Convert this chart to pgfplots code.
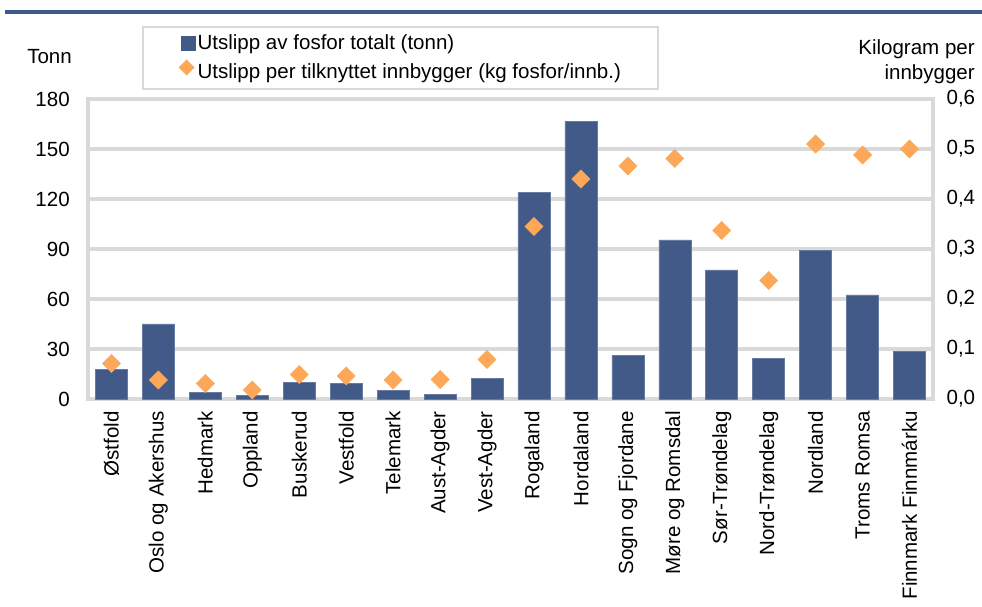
\documentclass[border=0pt]{standalone}
\usepackage{pgfplots}
\pgfplotsset{compat=1.18}
\usepackage{fontspec}
\setmainfont{Liberation Sans}
\definecolor{barcol}{RGB}{65,90,136}
\definecolor{dia}{RGB}{252,168,88}
\definecolor{gridc}{RGB}{217,217,217}
\definecolor{botc}{RGB}{200,200,200}
\definecolor{titleline}{RGB}{63,90,138}
\newcommand{\fs}{\fontsize{15.4pt}{18pt}\selectfont}
\begin{document}
\begin{tikzpicture}[font=\fs]
\path[use as bounding box] (0pt,0pt) rectangle (736.5pt,455.25pt);
\draw[titleline, line width=3pt] (4pt,446.25pt) -- (736.5pt,446.25pt);
\node[anchor=base west, inner sep=0pt] at (20.25pt,407.25pt) {Tonn};
\node[anchor=base east, inner sep=0pt] at (731.25pt,414pt) {Kilogram per};
\node[anchor=base east, inner sep=0pt] at (731.25pt,395.25pt) {innbygger};
\begin{axis}[
  at={(66pt,156pt)}, anchor=south west,
  scale only axis, width=633.75pt, height=225pt,
  xmin=-0.5, xmax=17.5, ymin=0, ymax=180,
  ytick={0,30,60,90,120,150,180},
  xtick={0,...,17},
  xticklabels={Østfold, Oslo og Akershus, Hedmark, Oppland, Buskerud, Vestfold, Telemark, Aust-Agder, Vest-Agder, Rogaland, Hordaland, Sogn og Fjordane, Møre og Romsdal, Sør-Trøndelag, Nord-Trøndelag, Nordland, Troms Romsa, Finnmark Finnmárku},
  xticklabel style={rotate=90, anchor=east, inner sep=0pt, font=\fs},
  xticklabel shift=9pt,
  yticklabel style={anchor=east, inner sep=0pt, xshift=-13.5pt, font=\fs},
  /pgf/number format/assume math mode=true,
  major tick length=0pt, tick style={draw=none},
  ymajorgrids, grid style={gridc, line width=2.6pt},
  axis line style={gridc, line width=3pt},
  x axis line style={botc},
  ybar, bar width=24pt,
]
\addplot[fill=barcol, draw=barcol!80!white, line width=0.4pt] coordinates {
(0,18) (1,45) (2,4) (3,2) (4,10) (5,9.5) (6,5) (7,3) (8,12.5)
(9,124) (10,166.5) (11,26) (12,95.5) (13,77.5) (14,24.5) (15,89) (16,62.5) (17,28.5)};
\end{axis}
\begin{axis}[
  at={(66pt,156pt)}, anchor=south west,
  scale only axis, width=633.75pt, height=225pt,
  xmin=-0.5, xmax=17.5, ymin=0, ymax=0.6,
  hide x axis,
  axis y line*=right,
  y axis line style={draw=none},
  ytick={0,0.1,0.2,0.3,0.4,0.5,0.6},
  yticklabel style={anchor=west, inner sep=0pt, xshift=10pt, font=\fs,
    /pgf/number format/.cd, fixed, fixed zerofill, precision=1, use comma},
  /pgf/number format/assume math mode=true,
  major tick length=0pt, tick style={draw=none},
  legend style={at={(0.0639,1.2433)}, anchor=north west, draw=gridc, line width=1.5pt,
    font=\fs, inner xsep=27pt, inner ysep=5pt, row sep=5pt,
    nodes={inner sep=1pt, anchor=west}},
  legend cell align=left,
]
\addlegendimage{legend image code/.code={\fill[barcol] (0pt,-5pt) rectangle (10pt,5pt);}}
\addlegendentry{Utslipp av fosfor totalt (tonn)}
\addplot[only marks, mark=square*, mark size=4.8pt, mark options={rotate=45, fill=dia, draw=dia},
  legend image code/.code={\fill[dia,rotate=45] (5pt,0pt) ++(-3.5pt,-3.5pt) rectangle ++(7pt,7pt);}]
coordinates {
(0,0.071) (1,0.038) (2,0.031) (3,0.018) (4,0.049) (5,0.046) (6,0.038) (7,0.039) (8,0.079)
(9,0.345) (10,0.440) (11,0.466) (12,0.481) (13,0.337) (14,0.237) (15,0.510) (16,0.488) (17,0.500)};
\addlegendentry{Utslipp per tilknyttet innbygger (kg fosfor/innb.)}
\end{axis}
\end{tikzpicture}
\end{document}
